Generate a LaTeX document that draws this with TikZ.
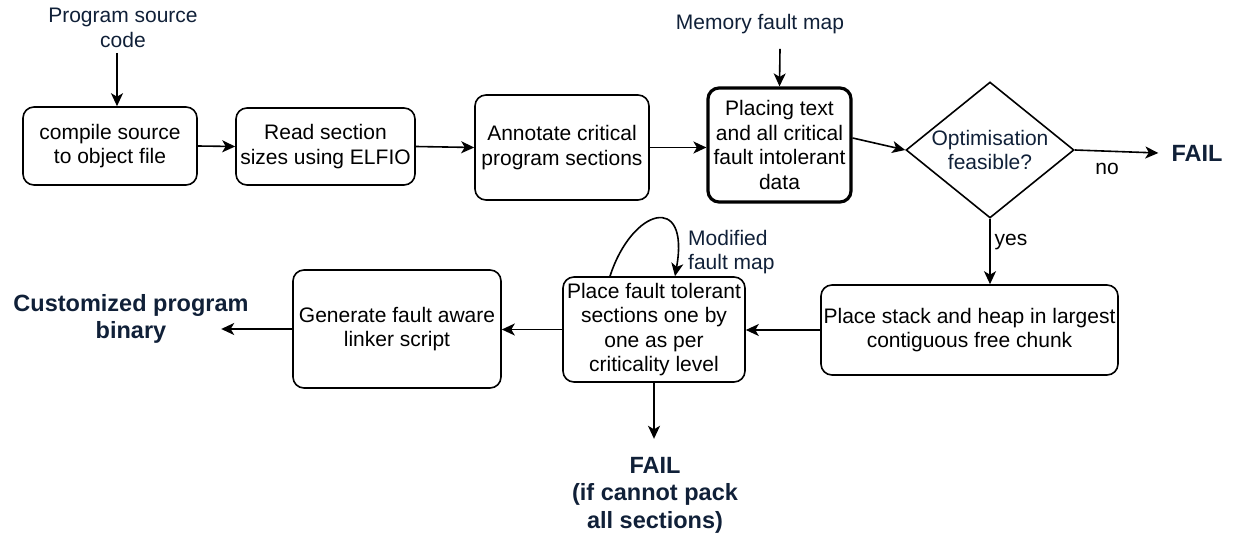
\documentclass[tikz,border=0pt]{standalone}
\usepackage{fontspec}
\setmainfont{Liberation Sans}
\usetikzlibrary{shapes.geometric,arrows.meta}
\definecolor{navy}{RGB}{16,32,56}
\begin{document}
\begin{tikzpicture}[x=1pt,y=-1pt,
  box/.style={draw, rounded corners=11pt, line width=1.6pt, align=center, inner sep=0pt,
    font=\fontsize{21}{24.5}\selectfont},
  lbl/.style={text=navy, align=center, inner sep=0pt, font=\fontsize{21}{24.5}\selectfont},
  blbl/.style={text=navy, align=center, inner sep=0pt, font=\fontsize{23.5}{27.5}\selectfont\bfseries},
  arr/.style={line width=1.6pt, -{Stealth[length=13pt,width=12pt,inset=3.5pt]}}]
\useasboundingbox (0,0) rectangle (1234,537);
% boxes
\node[box, minimum width=174pt, minimum height=78pt] (compile) at (110,146) {compile source\\to object file};
\node[box, minimum width=179pt, minimum height=77pt] (read) at (325.5,146.5) {Read section\\sizes using ELFIO};
\node[box, minimum width=174pt, minimum height=105pt] (annot) at (562,147.5) {Annotate critical\\program sections};
\node[box, line width=3.2pt, minimum width=143pt, minimum height=114pt] (place) at (779.5,145) {Placing text\\and all critical\\fault intolerant\\data};
\node[draw, diamond, line width=1.6pt, minimum width=168pt, minimum height=136pt, inner sep=0pt, aspect=1.235,
  text=navy, align=center, font=\fontsize{21}{24.5}\selectfont] (opt) at (990,150) {Optimisation\\feasible?};
\node[box, minimum width=297pt, minimum height=90pt] (stack) at (969.5,330) {Place stack and heap in largest\\contiguous free chunk};
\node[box, minimum width=182pt, minimum height=105pt] (ft) at (654,329.5) {Place fault tolerant\\sections one by\\one as per\\criticality level};
\node[box, minimum width=208pt, minimum height=118pt] (gen) at (397,329) {Generate fault aware\\linker script};
% labels
\node[lbl] (src) at (123,28) {Program source\\code};
\node[lbl] (mem) at (760,24) {Memory fault map};
\node[blbl] (fail1) at (1197,153) {FAIL};
\node[blbl] (cust) at (131,319) {Customized program\\binary};
\node[blbl] (fail2) at (655,495) {FAIL\\(if cannot pack\\all sections)};
\node[lbl, align=left, anchor=west] (mod) at (688,252) {Modified\\fault map};
\node[lbl, text=black] (no) at (1107,169) {no};
\node[lbl, text=black] (yes) at (1011,242) {yes};
% connectors
\draw[arr] ([xshift=-6pt,yshift=-5pt]src.south) -- ([xshift=7pt]compile.north);
\draw[arr] (compile.east) -- (read.west);
\draw[arr] (read.east) -- (annot.west);
\draw[arr] (annot.east) -- (place.west |- annot.east);
\draw[arr] ([xshift=20pt,yshift=-15pt]mem.south) -- (place.north);
\draw[arr] ([yshift=7pt]place.east) -- (opt.west);
\draw[arr] (opt.east) -- ([xshift=-13pt]fail1.west);
\draw[arr] (opt.south) -- (stack.north -| opt.south);
\draw[arr] (stack.west) -- (ft.east |- stack.west);
\draw[arr] ([xshift=-44pt]ft.north) .. controls (632,208) and (690,192) .. ([xshift=21pt]ft.north);
\draw[arr] (ft.south) -- ++(0,56);
\draw[arr] (ft.west) -- (gen.east |- ft.west);
\draw[arr] (gen.west) -- ++(-71,0);
\end{tikzpicture}
\end{document}
